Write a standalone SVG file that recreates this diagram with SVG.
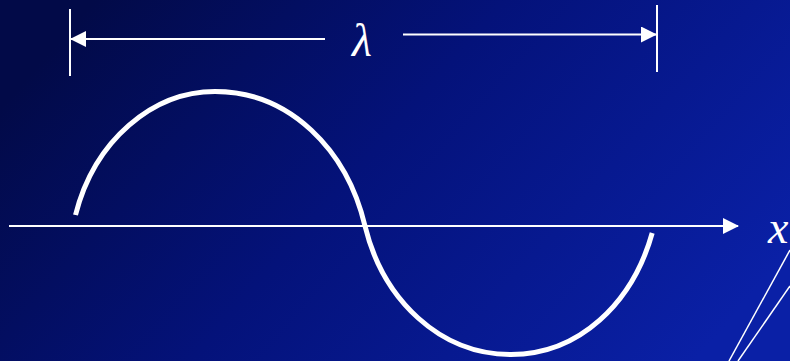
<svg xmlns="http://www.w3.org/2000/svg" width="790" height="361" viewBox="0 0 790 361">
  <defs>
    <linearGradient id="bg" x1="0" y1="0.3" x2="1" y2="0.7">
      <stop offset="0" stop-color="#020a48"/>
      <stop offset="0.45" stop-color="#04127a"/>
      <stop offset="1" stop-color="#0a20a6"/>
    </linearGradient>
    <marker id="ah" viewBox="0 0 16 16" refX="15" refY="8" markerWidth="16" markerHeight="16" orient="auto" markerUnits="userSpaceOnUse">
      <path d="M0,0 L16,8 L0,16 z" fill="#ffffff"/>
    </marker>
    <style>
      .ln { stroke: #ffffff; fill: none; }
      .thin { stroke-width: 1.5; }
      .med { stroke-width: 2; }
      .wave { stroke: #ffffff; stroke-width: 5; fill: none; stroke-linecap: butt; }
      .lbl { font-family: "Liberation Serif", "Times New Roman", serif; font-style: italic; font-size: 46px; fill: #ffffff; }
    </style>
  </defs>
  <rect x="0" y="0" width="790" height="361" fill="url(#bg)"/>

  <g id="dimension">
    <line class="ln med" x1="70" y1="9" x2="70" y2="76"/>
    <line class="ln med" x1="657" y1="5" x2="657" y2="72"/>
  </g>

  <g id="wave">
    <path class="wave" d="M75.5,215 C94.5,140 153,91.5 215,91.5 C290,91.5 347,150 365,226 C383,300 440,354.5 511,354.5 C579,354.5 632.5,303.4 652.2,233"/>
  </g>

  <g id="labels">
    <text class="lbl" x="362" y="56" text-anchor="middle">λ</text>
    <text class="lbl" x="768" y="243">x</text>
  </g>

  <g id="connectors">
    <line class="ln med" x1="325" y1="39" x2="71" y2="39" marker-end="url(#ah)"/>
    <line class="ln med" x1="403" y1="34.5" x2="656" y2="34.5" marker-end="url(#ah)"/>
    <line class="ln med" x1="9" y1="226" x2="738" y2="226" marker-end="url(#ah)"/>
    <line class="ln thin" x1="790" y1="250" x2="729" y2="361"/>
    <line class="ln thin" x1="790" y1="286" x2="738" y2="361"/>
  </g>
</svg>
